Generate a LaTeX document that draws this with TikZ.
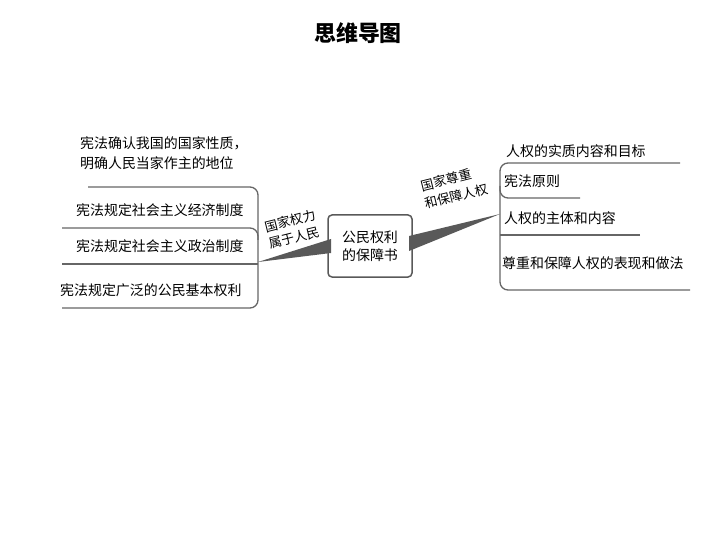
\documentclass[tikz,border=0pt]{standalone}
\usepackage{fontspec}
\newfontfamily\cjk{Noto Sans CJK SC}
\begin{document}
\begin{tikzpicture}[x=1bp,y=-1bp,
  ln/.style={draw=gray!80!black,line width=1.3bp,rounded corners=8bp},
  txt/.style={font=\cjk\fontsize{14}{17}\selectfont,anchor=west,inner sep=0pt,align=left},
  lab/.style={font=\cjk\fontsize{13}{15}\selectfont,inner sep=0pt,rotate=14}]
\useasboundingbox (0,0) rectangle (720,540);
\node[font=\cjk\bfseries\fontsize{22}{24}\selectfont] (title) at (358,33) {思维导图};
% center
\node[draw=gray!70!black,line width=1.5bp,rounded corners=4bp,minimum width=84bp,minimum height=62bp,font=\cjk\fontsize{14}{18}\selectfont,align=center] (c) at (370,246) {公民权利\\的保障书};
% left
\fill[gray!70!black] (331,239) -- (258,262) -- (331,253) -- cycle;
\draw[ln] (88,187) -- (258,187) -- (258,308) -- (62,308);
\draw[ln] (62,228) -- (258,228) -- (258,240);
\draw[ln] (62,264) -- (258,264);
\node[txt] (l1) at (80,143) {宪法确认我国的国家性质，};
\node[txt] (l1b) at (80,163) {明确人民当家作主的地位};
\node[txt] (l2) at (76,210) {宪法规定社会主义经济制度};
\node[txt] (l3) at (76,246) {宪法规定社会主义政治制度};
\node[txt] (l4) at (60,290) {宪法规定广泛的公民基本权利};
\node[lab] (ll) at (290,221) {国家权力};
\node[lab] (llb) at (294,238) {属于人民};
% right
\fill[gray!70!black] (409,236) -- (500,214) -- (409,251) -- cycle;
\draw[ln] (680,163) -- (500,163) -- (500,290) -- (690,290);
\draw[ln] (580,198) -- (500,198) -- (500,186);
\draw[ln] (640,235) -- (500,235);
\node[txt] (r1) at (506,151) {人权的实质内容和目标};
\node[txt] (r2) at (504,181) {宪法原则};
\node[txt] (r3) at (504,218) {人权的主体和内容};
\node[txt] (r4) at (502,263) {尊重和保障人权的表现和做法};
\node[lab] (rl) at (446,180) {国家尊重};
\node[lab] (rlb) at (456,196) {和保障人权};
\end{tikzpicture}
\end{document}
